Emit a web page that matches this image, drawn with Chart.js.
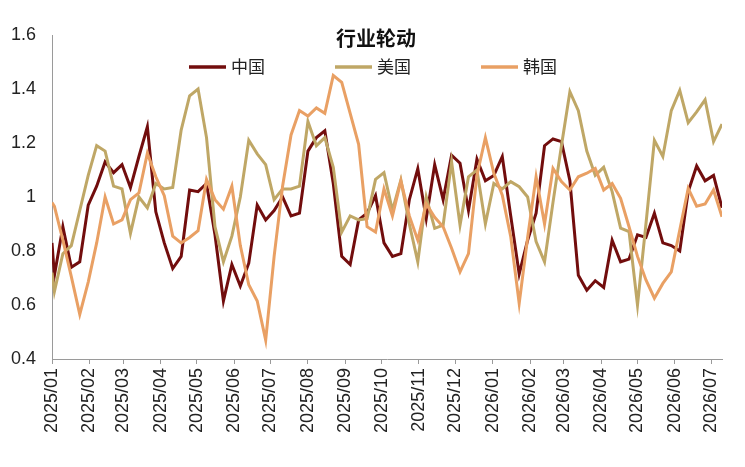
<!DOCTYPE html>
<html>
<head>
<meta charset="utf-8">
<title>行业轮动</title>
<script src="https://cdn.jsdelivr.net/npm/chart.js@4.4.1/dist/chart.umd.min.js"></script>
<style>
  html, body { margin: 0; padding: 0; background: #fff; }
  canvas { display: block; }
</style>
</head>
<body>
<canvas id="chart" width="745" height="467"></canvas>
<script>
// observation dates: start of period, then weekly (Fridays)
const dates = [
  '2025-01-01',
  '2025-01-03', '2025-01-10', '2025-01-17', '2025-01-24', '2025-01-31',
  '2025-02-07', '2025-02-14', '2025-02-21', '2025-02-28',
  '2025-03-07', '2025-03-14', '2025-03-21', '2025-03-28',
  '2025-04-04', '2025-04-11', '2025-04-18', '2025-04-25',
  '2025-05-02', '2025-05-09', '2025-05-16', '2025-05-23', '2025-05-30',
  '2025-06-06', '2025-06-13', '2025-06-20', '2025-06-27',
  '2025-07-04', '2025-07-11', '2025-07-18', '2025-07-25',
  '2025-08-01', '2025-08-08', '2025-08-15', '2025-08-22', '2025-08-29',
  '2025-09-05', '2025-09-12', '2025-09-19', '2025-09-26',
  '2025-10-03', '2025-10-10', '2025-10-17', '2025-10-24', '2025-10-31',
  '2025-11-07', '2025-11-14', '2025-11-21', '2025-11-28',
  '2025-12-05', '2025-12-12', '2025-12-19', '2025-12-26',
  '2026-01-02', '2026-01-09', '2026-01-16', '2026-01-23', '2026-01-30',
  '2026-02-06', '2026-02-13', '2026-02-20', '2026-02-27',
  '2026-03-06', '2026-03-13', '2026-03-20', '2026-03-27',
  '2026-04-03', '2026-04-10', '2026-04-17', '2026-04-24',
  '2026-05-01', '2026-05-08', '2026-05-15', '2026-05-22', '2026-05-29',
  '2026-06-05', '2026-06-12', '2026-06-19', '2026-06-26',
  '2026-07-03', '2026-07-10'
];

// 中国
const chinaValues = [
  0.83,
  0.71, 0.89, 0.74, 0.76, 0.97,
  1.04, 1.13, 1.09, 1.12,
  1.035, 1.15, 1.26, 0.945,
  0.83, 0.735, 0.78, 1.026,
  1.02, 1.05, 0.86, 0.615, 0.75,
  0.67, 0.755, 0.97, 0.915,
  0.95, 1.0, 0.93, 0.94,
  1.17, 1.22, 1.245, 1.05, 0.78,
  0.75, 0.915, 0.94, 1.005,
  0.83, 0.78, 0.79, 0.99, 1.105,
  0.92, 1.12, 0.99, 1.155,
  1.125, 0.95, 1.14, 1.06,
  1.08, 1.15, 0.93, 0.715, 0.84,
  0.94, 1.19, 1.215, 1.205,
  1.06, 0.71, 0.655, 0.69,
  0.665, 0.84, 0.76, 0.77,
  0.86, 0.85, 0.94, 0.83, 0.82,
  0.80, 1.02, 1.115, 1.06,
  1.08, 0.96
];

// 美国
const usValues = [
  0.72,
  0.65, 0.79, 0.82, 0.95, 1.08,
  1.19, 1.17, 1.04, 1.03,
  0.865, 1.0, 0.96, 1.05,
  1.03, 1.035, 1.248, 1.375,
  1.40, 1.22, 0.89, 0.76, 0.855,
  1.0, 1.21, 1.16, 1.12,
  0.99, 1.03, 1.03, 1.04,
  1.28, 1.19, 1.22, 1.11, 0.87,
  0.93, 0.915, 0.92, 1.065,
  1.09, 0.95, 1.063, 0.9, 0.76,
  1.0, 0.884, 0.896, 1.13,
  0.896, 1.075, 1.10, 0.90,
  1.05, 1.03, 1.057, 1.038, 1.0,
  0.835, 0.76, 0.98, 1.19,
  1.39, 1.32, 1.17, 1.08,
  1.11, 1.02, 0.885, 0.872,
  0.60, 0.90, 1.21, 1.15, 1.32,
  1.395, 1.275, 1.315, 1.36,
  1.205, 1.27
];

// 韩国
const koreaValues = [
  0.98,
  0.965, 0.84, 0.705, 0.565, 0.685,
  0.83, 1.0, 0.90, 0.915,
  0.99, 1.015, 1.162, 1.075,
  1.005, 0.855, 0.83, 0.85,
  0.875, 1.065, 0.99, 0.955, 1.04,
  0.82, 0.675, 0.615, 0.47,
  0.78, 1.04, 1.23, 1.32,
  1.30, 1.33, 1.31, 1.45, 1.425,
  1.31, 1.195, 0.89, 0.87,
  1.03, 0.93, 1.06, 0.93, 0.84,
  0.975, 0.925, 0.89, 0.81,
  0.723, 0.79, 1.08, 1.22,
  1.088, 1.007, 0.853, 0.606, 0.85,
  1.075, 0.90, 1.106, 1.057,
  1.026, 1.075, 1.088, 1.106,
  1.026, 1.05, 0.995, 0.89,
  0.78, 0.693, 0.625, 0.68, 0.723,
  0.878, 1.032, 0.966, 0.974,
  1.026, 0.927
];

const seriesNames = ['中国', '美国', '韩国'];
const seriesColors = ['#720d0d', '#bfa766', '#e9a064'];

// x axis: one tick per month
const monthTicks = [
  '2025/01', '2025/02', '2025/03', '2025/04', '2025/05', '2025/06', '2025/07',
  '2025/08', '2025/09', '2025/10', '2025/11', '2025/12', '2026/01', '2026/02',
  '2026/03', '2026/04', '2026/05', '2026/06', '2026/07'
];
const yTicks = [0.4, 0.6, 0.8, 1.0, 1.2, 1.4, 1.6];

const DAY = 86400000;
const start = Date.UTC(2025, 0, 1);
const dayOf = (iso) => {
  const p = iso.split('-').map(Number);
  return (Date.UTC(p[0], p[1] - 1, p[2]) - start) / DAY;
};
const monthDay = (label) => {
  const p = label.split('/').map(Number);
  return (Date.UTC(p[0], p[1] - 1, 1) - start) / DAY;
};
const monthLabel = {};
monthTicks.forEach(m => { monthLabel[monthDay(m)] = m; });

const toPoints = (vals) => dates.map((d, i) => ({ x: dayOf(d), y: vals[i] }));

const numFont = 'Liberation Sans, Arial, sans-serif';
const cjkFont = '"Noto Sans CJK SC", "Noto Sans", sans-serif';

// title and legend sit inside the plot, like the original
const overlay = {
  id: 'overlay',
  afterDraw(chart) {
    const ctx = chart.ctx;
    ctx.save();
    ctx.fillStyle = '#111';
    ctx.font = 'bold 20px ' + cjkFont;
    ctx.textAlign = 'center';
    ctx.textBaseline = 'middle';
    ctx.fillText('行业轮动', 376, 38);

    const lineStarts = [189, 335, 481];
    ctx.font = '17px ' + cjkFont;
    ctx.textAlign = 'left';
    seriesNames.forEach((name, i) => {
      const x = lineStarts[i];
      ctx.strokeStyle = seriesColors[i];
      ctx.lineWidth = 3.5;
      ctx.lineCap = 'butt';
      ctx.beginPath();
      ctx.moveTo(x, 67);
      ctx.lineTo(x + 37, 67);
      ctx.stroke();
      ctx.fillStyle = '#222';
      ctx.fillText(name, x + 42, 67);
    });
    ctx.restore();
  }
};

new Chart(document.getElementById('chart'), {
  type: 'line',
  data: {
    datasets: [
      { label: seriesNames[0], data: toPoints(chinaValues), borderColor: seriesColors[0], order: 2 },
      { label: seriesNames[1], data: toPoints(usValues), borderColor: seriesColors[1], order: 1 },
      { label: seriesNames[2], data: toPoints(koreaValues), borderColor: seriesColors[2], order: 0 }
    ]
  },
  options: {
    responsive: false,
    animation: false,
    layout: { padding: { top: 35, right: 23, left: 0, bottom: 0 } },
    elements: {
      line: { borderWidth: 3, tension: 0, borderJoinStyle: 'miter', borderCapStyle: 'butt' },
      point: { radius: 0 }
    },
    plugins: {
      legend: { display: false },
      title: { display: false },
      tooltip: { enabled: false }
    },
    scales: {
      x: {
        type: 'linear',
        min: 0,
        max: dayOf(dates[dates.length - 1]),
        afterBuildTicks: (scale) => {
          scale.ticks = monthTicks.map(m => ({ value: monthDay(m) }));
        },
        afterFit: (scale) => { scale.height = 108; },
        ticks: {
          autoSkip: false,
          minRotation: 90,
          maxRotation: 90,
          padding: 4,
          color: '#222',
          font: { family: numFont, size: 18 },
          callback: (v) => monthLabel[v] || ''
        },
        grid: { drawOnChartArea: false, drawTicks: true, tickLength: 5, color: '#9a9a9a' },
        border: { display: true, color: '#9a9a9a', width: 1 }
      },
      y: {
        min: 0.4,
        max: 1.6,
        afterBuildTicks: (scale) => {
          scale.ticks = yTicks.map(v => ({ value: v }));
        },
        afterFit: (scale) => { scale.width = 52; },
        ticks: {
          padding: 16,
          color: '#222',
          font: { family: numFont, size: 18 },
          callback: (v) => String(+v.toFixed(1))
        },
        grid: { display: false, drawTicks: false },
        border: { display: true, color: '#9a9a9a', width: 1 }
      }
    }
  },
  plugins: [overlay]
});
</script>
</body>
</html>
